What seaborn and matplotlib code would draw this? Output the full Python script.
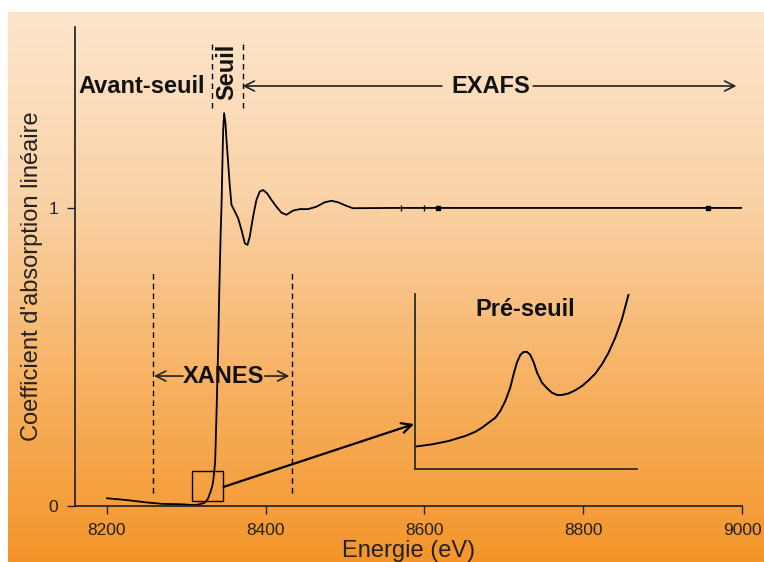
import matplotlib
matplotlib.use("Agg")
import matplotlib.pyplot as plt
import numpy as np
import seaborn as sns
from matplotlib.colors import LinearSegmentedColormap
from matplotlib.patches import Rectangle

# XAS spectrum
energy = [8200, 8225, 8250, 8271, 8292, 8311, 8317, 8323.5, 8327.7, 8330.7,
          8332.7, 8334, 8335.3, 8336.5, 8338.2, 8340.3, 8341.5, 8342.4, 8343.5,
          8344.5, 8345.8, 8346.6, 8347.8, 8349.5, 8350.8, 8352.9, 8355, 8357.1,
          8361.3, 8365.5, 8369.7, 8373.9, 8377.2, 8380.1, 8384.3, 8388.5,
          8392.7, 8396.9, 8401.9, 8407.4, 8413.7, 8420, 8426.3, 8434.6, 8443,
          8453.5, 8464, 8474.5, 8482.9, 8491.2, 8501.8, 8510, 8560, 8620, 8700,
          8800, 8900, 9000]
mu = [0.026, 0.020, 0.012, 0.007, 0.006, 0.003, 0.006, 0.011, 0.026, 0.048,
      0.065, 0.082, 0.115, 0.149, 0.308, 0.531, 0.699, 0.80, 0.92,
      1.004, 1.17, 1.26, 1.318, 1.284, 1.228, 1.15, 1.072, 1.01,
      0.988, 0.965, 0.926, 0.881, 0.876, 0.904, 0.971, 1.027,
      1.055, 1.06, 1.049, 1.027, 1.004, 0.984, 0.977, 0.991, 0.996,
      0.996, 1.004, 1.019, 1.024, 1.019, 1.007, 0.999, 1.0, 1.0, 1.0,
      1.0, 1.0, 1.0]

# small data marks visible on the flat EXAFS part
tick_energy = [8570, 8600]
square_energy = [8617, 8957]

# pre-edge zoom (inset, normalised units)
inset_x = [0.0015, 0.077, 0.152, 0.227, 0.272, 0.302, 0.332, 0.362, 0.384,
           0.407, 0.429, 0.444, 0.459, 0.474, 0.489, 0.505, 0.520, 0.535,
           0.550, 0.572, 0.595, 0.617, 0.640, 0.662, 0.692, 0.722, 0.752,
           0.782, 0.812, 0.842, 0.872, 0.902, 0.932, 0.962]
inset_y = [0.128, 0.141, 0.160, 0.189, 0.213, 0.236, 0.265, 0.293, 0.331,
           0.389, 0.465, 0.541, 0.608, 0.651, 0.669, 0.669, 0.651, 0.608,
           0.550, 0.493, 0.461, 0.436, 0.423, 0.423, 0.432, 0.450, 0.474,
           0.507, 0.545, 0.598, 0.665, 0.750, 0.855, 0.998]

xticks = [8200, 8400, 8600, 8800, 9000]
yticks = [0, 1]

sns.set_theme(style="ticks")
plt.rcParams["font.family"] = ["Liberation Sans", "DejaVu Sans"]

fig = plt.figure(figsize=(7.64, 5.62), dpi=100)
fig.patch.set_facecolor("white")

# gradient background
bg = fig.add_axes([8 / 764, 0, 1 - 8 / 764, 1 - 12 / 562])
cmap = LinearSegmentedColormap.from_list(
    "peach", ["#f4952a", "#f7b264", "#fad3a8", "#fde5cc"])
grad = np.linspace(0, 1, 256).reshape(-1, 1)
bg.imshow(grad, aspect="auto", cmap=cmap, origin="lower", extent=[0, 1, 0, 1])
bg.axis("off")

ax = fig.add_axes([75 / 764, 1 - 506 / 562, 667 / 764, 479 / 562])
ax.set_facecolor("none")

sns.lineplot(x=energy, y=mu, ax=ax, color="black", linewidth=1.3)
ax.plot(tick_energy, [1.0] * len(tick_energy), linestyle="none", marker="|",
        color="black", markersize=5, markeredgewidth=1)
ax.plot(square_energy, [1.0] * len(square_energy), linestyle="none", marker="s",
        color="black", markersize=3)

ax.set_xlim(8160, 9000)
ax.set_ylim(0, 1.607)
ax.set_xticks(xticks)
ax.set_yticks(yticks)
ax.tick_params(length=6, width=1, labelsize=12.5, colors="#222222", pad=6)
sns.despine(ax=ax)
ax.spines["left"].set_color("#222222")
ax.spines["bottom"].set_color("#222222")
ax.set_xlabel("Energie (eV)", fontsize=17, color="#222222", labelpad=2)
ax.set_ylabel("Coefficient d'absorption linéaire", fontsize=17,
              color="#222222")
ax.yaxis.set_label_coords(-0.048, 0.48)

bold = dict(fontsize=17, fontweight="bold", color="#111111",
            ha="center", va="center")
dash = (0, (4, 3))

# edge region
ax.text(8244, 1.409, "Avant-seuil", **bold)
ax.text(8351, 1.456, "Seuil", rotation=90, **bold)
ax.vlines([8332, 8371], 1.336, 1.557, colors="black", linestyles=dash,
          linewidth=1)

# EXAFS
ax.text(8683, 1.409, "EXAFS", **bold)
arrow = dict(arrowstyle="->", color="#222222", lw=1.2, shrinkA=0, shrinkB=0,
             mutation_scale=18)
ax.annotate("", xy=(8371, 1.409), xytext=(8622, 1.409), arrowprops=arrow)
ax.annotate("", xy=(8993, 1.409), xytext=(8737, 1.409), arrowprops=arrow)

# XANES
ax.text(8347, 0.436, "XANES", **bold)
ax.vlines([8258.5, 8433], 0.044, 0.785, colors="black", linestyles=dash,
          linewidth=1)
ax.annotate("", xy=(8259.5, 0.436), xytext=(8296, 0.436), arrowprops=arrow)
ax.annotate("", xy=(8430, 0.436), xytext=(8399, 0.436), arrowprops=arrow)

# zoom box and connector
ax.add_patch(Rectangle((8307, 0.017), 40, 0.1, fill=False,
                       edgecolor="black", linewidth=1))
ax.annotate("", xy=(8587, 0.275), xytext=(8347, 0.064),
            arrowprops=dict(arrowstyle="->", color="black", lw=1.6,
                            shrinkA=0, shrinkB=0, mutation_scale=18))

# inset
ins = fig.add_axes([415 / 764, 1 - 469 / 562, 222 / 764, 175 / 562])
ins.set_facecolor("none")
sns.lineplot(x=inset_x, y=inset_y, ax=ins, color="black", linewidth=1.4)
ins.set_xlim(0, 1)
ins.set_ylim(0, 1)
ins.set_xticks([])
ins.set_yticks([])
ins.set_xlabel("")
ins.set_ylabel("")
sns.despine(ax=ins)
ins.text(0.495, 0.914, "Pré-seuil", transform=ins.transAxes, **bold)

fig.savefig("out.png", dpi=100, facecolor=fig.get_facecolor())
